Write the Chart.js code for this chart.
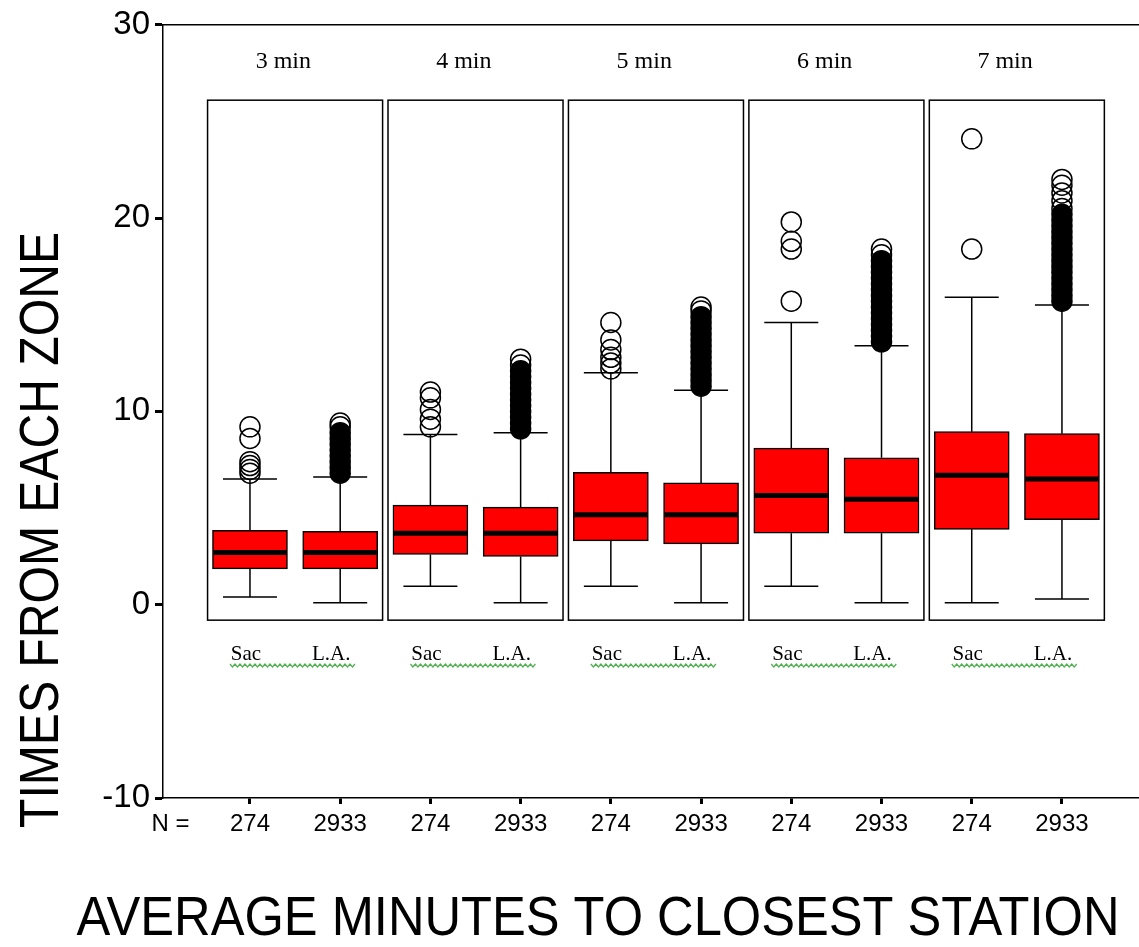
<!DOCTYPE html>
<html>
<head>
<meta charset="utf-8">
<script src="https://cdn.jsdelivr.net/npm/chart.js@4/dist/chart.umd.min.js"></script>
<style>
  body { margin: 0; background: #fff; }
  canvas { display: block; }
</style>
</head>
<body>
<canvas id="boxChart" width="1139" height="947"></canvas>
<script>
// Response times, Sacramento vs Los Angeles, by average minutes to the closest station
const groups = ['3 min', '4 min', '5 min', '6 min', '7 min'];
const cities = ['Sac', 'L.A.'];
const counts = [274, 2933];
const yTicks = [-10, 0, 10, 20, 30];

// one value per box: Sac, L.A., Sac, L.A., ...
const whiskLow  = [0.4, 0.1, 0.95, 0.1, 0.95, 0.1, 0.95, 0.1, 0.1, 0.3];
const q1        = [1.85, 1.85, 2.6, 2.5, 3.3, 3.15, 3.7, 3.7, 3.9, 4.4];
const median    = [2.7, 2.7, 3.7, 3.7, 4.65, 4.65, 5.65, 5.45, 6.7, 6.5];
const q3        = [3.85, 3.8, 5.15, 5.05, 6.85, 6.3, 8.1, 7.6, 8.95, 8.85];
const whiskHigh = [6.5, 6.6, 8.8, 8.9, 12.0, 11.1, 14.6, 13.4, 15.9, 15.5];

// single outliers that can be told apart
const outliers = [
  [9.2, 8.6, 7.4, 7.2, 7.0, 6.8],
  [9.2, 9.4],
  [11.0, 10.7, 10.1, 9.6, 9.2],
  [12.4, 12.7],
  [14.6, 13.7, 13.2, 12.8, 12.5, 12.2],
  [15.2, 15.4],
  [19.8, 18.8, 18.4, 15.7],
  [18.1, 18.4],
  [24.1, 18.4],
  [20.5, 20.9, 21.3, 21.7, 22.0]
];
// outliers so packed that they print as a solid black column
const denseOutliers = [
  [],
  [6.8, 7.1, 7.4, 7.7, 8.0, 8.3, 8.6, 8.9],
  [],
  [9.1, 9.4, 9.7, 10.0, 10.3, 10.6, 10.9, 11.2, 11.5, 11.8, 12.1],
  [],
  [11.3, 11.6, 11.9, 12.2, 12.5, 12.8, 13.1, 13.4, 13.7, 14.0, 14.3, 14.6, 14.9],
  [],
  [13.6, 13.9, 14.2, 14.5, 14.8, 15.1, 15.4, 15.7, 16.0, 16.3, 16.6, 16.9, 17.2, 17.5, 17.8],
  [],
  [15.7, 16.0, 16.3, 16.6, 16.9, 17.2, 17.5, 17.8, 18.1, 18.4, 18.7, 19.0, 19.3, 19.6, 19.9, 20.2]
];

const SANS = '"Liberation Sans", Arial, sans-serif';
const SERIF = '"Liberation Serif", "Times New Roman", serif';
const BOX_W = 75;
const CAP_W = 54;

const boxData = q1.map((lo, i) => ({ x: i + 1, y: [lo, q3[i]] }));
const toPoints = lists => lists.flatMap((list, i) => list.map(v => ({ x: i + 1, y: v })));

// panels, titles, Sac / L.A. labels, whiskers and medians
const boxPlotParts = {
  id: 'boxPlotParts',
  beforeDatasetsDraw(chart) {
    const { ctx, scales: { x, y } } = chart;
    ctx.save();
    ctx.strokeStyle = '#000';
    ctx.fillStyle = '#000';
    ctx.lineWidth = 1.5;

    groups.forEach((g, k) => {
      const c = 2 * k + 1.5;
      const left = x.getPixelForValue(c - 0.97);
      const right = x.getPixelForValue(c + 0.97);
      const top = y.getPixelForValue(26.1);
      const bottom = y.getPixelForValue(-0.8);
      ctx.strokeRect(left, top, right - left, bottom - top);

      ctx.font = '24px ' + SERIF;
      ctx.textAlign = 'center';
      ctx.textBaseline = 'middle';
      ctx.fillText(g, x.getPixelForValue(c - 0.13), y.getPixelForValue(28.1));

      // city labels with the green spell-check squiggle under them
      ctx.font = '21px ' + SERIF;
      const ly = y.getPixelForValue(-2.55);
      const sacX = x.getPixelForValue(c - 0.5) - 4;
      const laX = x.getPixelForValue(c + 0.5) - 9;
      ctx.fillText(cities[0], sacX, ly);
      ctx.fillText(cities[1], laX, ly);
      const sx0 = sacX - 16, sx1 = laX + 24, sy = ly + 11;
      ctx.save();
      ctx.strokeStyle = '#4fb04f';
      ctx.lineWidth = 1.2;
      ctx.beginPath();
      for (let px = sx0, n = 0; px <= sx1; px += 2.5, n++) {
        const py = sy + (n % 2 ? 2 : -1);
        if (n === 0) ctx.moveTo(px, py); else ctx.lineTo(px, py);
      }
      ctx.stroke();
      ctx.restore();
    });

    // whiskers and caps
    ctx.lineWidth = 1.5;
    q1.forEach((lo, i) => {
      const cx = x.getPixelForValue(i + 1);
      const yLo = y.getPixelForValue(whiskLow[i]);
      const yHi = y.getPixelForValue(whiskHigh[i]);
      ctx.beginPath();
      ctx.moveTo(cx, yHi); ctx.lineTo(cx, y.getPixelForValue(q3[i]));
      ctx.moveTo(cx, y.getPixelForValue(lo)); ctx.lineTo(cx, yLo);
      ctx.moveTo(cx - CAP_W / 2, yHi); ctx.lineTo(cx + CAP_W / 2, yHi);
      ctx.moveTo(cx - CAP_W / 2, yLo); ctx.lineTo(cx + CAP_W / 2, yLo);
      ctx.stroke();
    });
    ctx.restore();
  },
  afterDatasetsDraw(chart) {
    const { ctx, scales: { x, y } } = chart;
    ctx.save();
    ctx.strokeStyle = '#000';
    ctx.lineWidth = 5;
    median.forEach((m, i) => {
      const cx = x.getPixelForValue(i + 1);
      const my = y.getPixelForValue(m);
      ctx.beginPath();
      ctx.moveTo(cx - BOX_W / 2 + 1, my);
      ctx.lineTo(cx + BOX_W / 2 - 1, my);
      ctx.stroke();
    });
    ctx.restore();
  },
  afterDraw(chart) {
    const { ctx, chartArea } = chart;
    ctx.save();
    // top frame line
    ctx.strokeStyle = '#000';
    ctx.lineWidth = 1.5;
    ctx.beginPath();
    ctx.moveTo(chartArea.left, chartArea.top);
    ctx.lineTo(chart.width, chartArea.top);
    ctx.stroke();

    // condensed axis titles
    const fitText = (text, width) => {
      ctx.font = '56px ' + SANS;
      const w = ctx.measureText(text).width;
      ctx.scale(width / w, 1);
      ctx.textAlign = 'center';
      ctx.textBaseline = 'alphabetic';
      ctx.fillStyle = '#000';
      ctx.fillText(text, 0, 0);
    };
    ctx.save();
    ctx.translate(598, 935);
    fitText('AVERAGE MINUTES TO CLOSEST STATION', 1043);
    ctx.restore();
    ctx.save();
    ctx.translate(58, 530);
    ctx.rotate(-Math.PI / 2);
    fitText('TIMES FROM EACH ZONE', 596);
    ctx.restore();
    ctx.restore();
  }
};

new Chart(document.getElementById('boxChart'), {
  type: 'bar',
  data: {
    datasets: [
      {
        type: 'bar',
        label: 'Interquartile range',
        data: boxData,
        backgroundColor: '#ff0000',
        borderColor: '#000',
        borderWidth: 1.5,
        borderSkipped: false,
        barThickness: BOX_W,
        grouped: false,
        order: 3
      },
      {
        type: 'scatter',
        label: 'Outliers (dense)',
        data: toPoints(denseOutliers),
        pointRadius: 10,
        pointBorderWidth: 1.5,
        pointBackgroundColor: '#000',
        pointBorderColor: '#000',
        order: 2
      },
      {
        type: 'scatter',
        label: 'Outliers',
        data: toPoints(outliers),
        pointRadius: 10,
        pointBorderWidth: 1.5,
        pointBackgroundColor: 'rgba(0,0,0,0)',
        pointBorderColor: '#000',
        order: 1
      }
    ]
  },
  options: {
    responsive: false,
    animation: false,
    devicePixelRatio: 1,
    layout: { autoPadding: false, padding: { top: 24, left: 0, right: 0, bottom: 0 } },
    plugins: {
      legend: { display: false },
      tooltip: { enabled: false }
    },
    scales: {
      x: {
        type: 'linear',
        min: 0.036,
        max: 10.854,
        offset: false,
        grid: {
          offset: false,
          drawOnChartArea: false,
          tickLength: 6,
          tickWidth: 3,
          tickColor: c => (c.index === 0 ? 'rgba(0,0,0,0)' : '#000')
        },
        border: { color: '#000', width: 1.5 },
        afterBuildTicks: scale => {
          scale.ticks = [{ value: 0.12 }].concat(
            groups.flatMap((g, k) => cities.map((c, j) => ({ value: 2 * k + j + 1 })))
          );
        },
        afterFit: scale => { scale.height = 149; },
        ticks: {
          autoSkip: false,
          maxRotation: 0,
          padding: 6,
          color: '#000',
          font: { family: '"Liberation Sans Narrow", ' + SANS, size: 24 },
          callback: (value, index) => (index === 0 ? 'N =' : String(counts[(index - 1) % 2]))
        }
      },
      y: {
        type: 'linear',
        min: -10,
        max: 30,
        grid: {
          drawOnChartArea: false,
          tickLength: 8,
          tickWidth: 3,
          tickColor: '#000'
        },
        border: { color: '#000', width: 1.5 },
        afterBuildTicks: scale => { scale.ticks = yTicks.map(v => ({ value: v })); },
        afterFit: scale => { scale.width = 163; },
        ticks: {
          padding: 5,
          color: '#000',
          font: { family: SANS, size: 33 }
        }
      }
    }
  },
  plugins: [boxPlotParts]
});
</script>
</body>
</html>
